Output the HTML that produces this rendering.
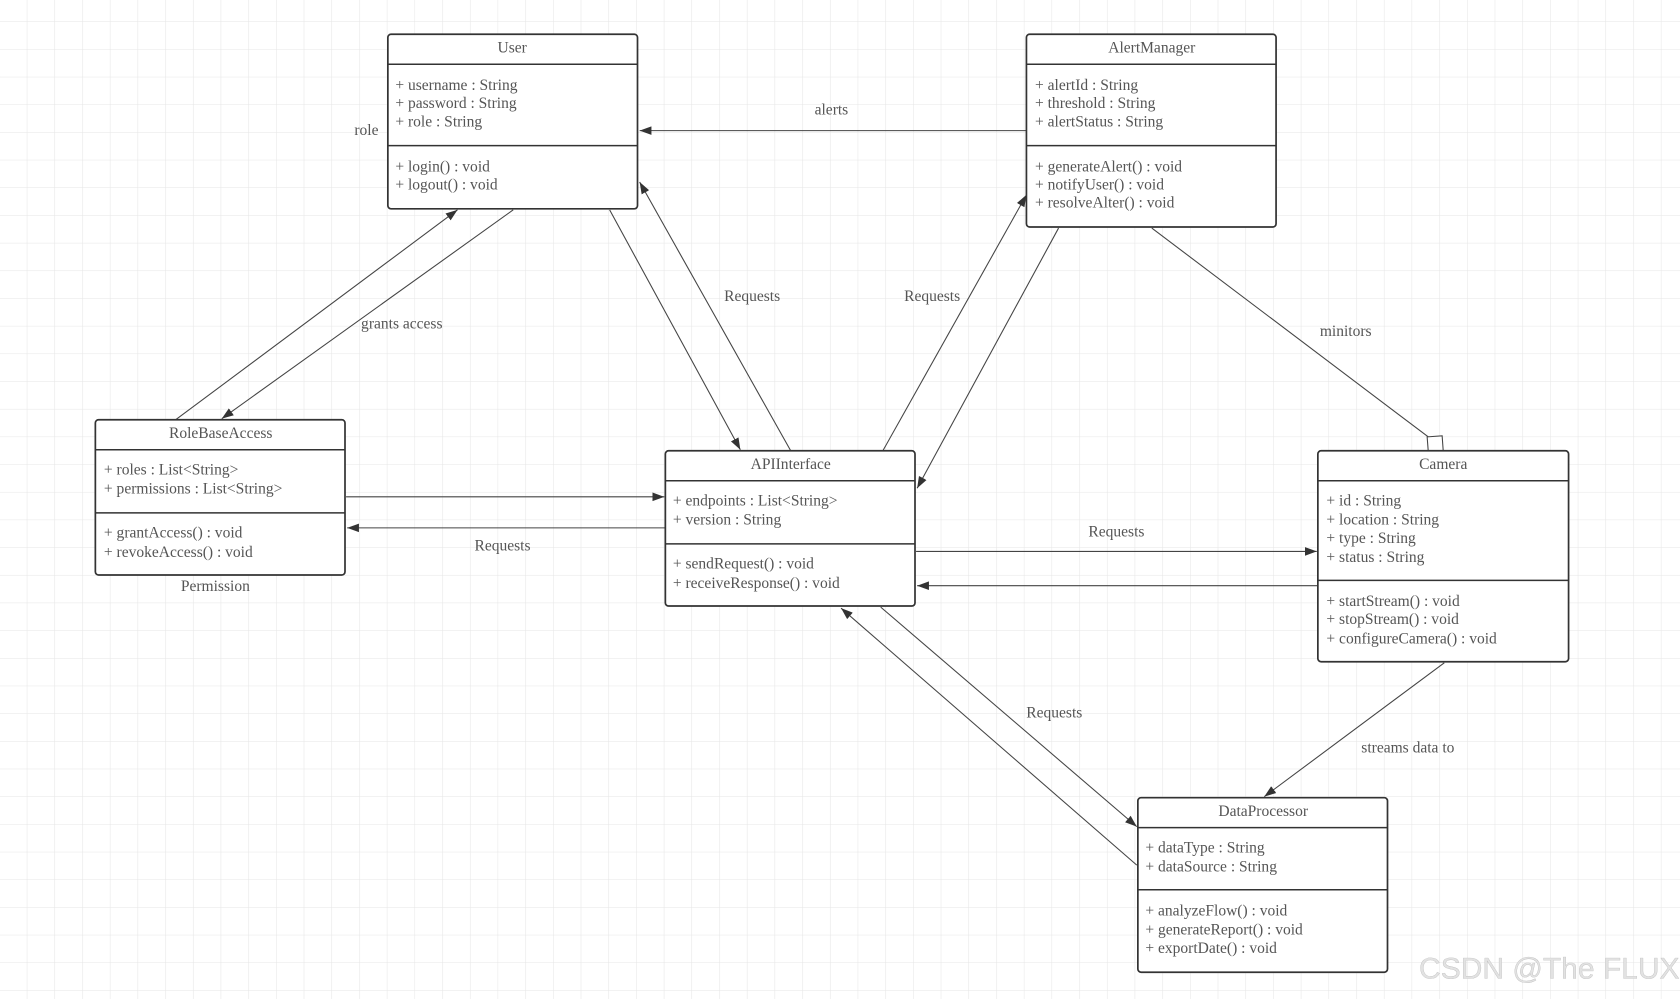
<!DOCTYPE html>
<html><head><meta charset="utf-8"><style>
html,body{margin:0;padding:0;background:#fff;width:1680px;height:999px;overflow:hidden}
svg{display:block}
text{font-family:"Liberation Serif",serif;font-size:14.5px;fill:#555}
.t{text-anchor:middle}
.b{fill:#fff;stroke:#333;stroke-width:1.6}
.s{stroke:#333;stroke-width:1.4}
.c{stroke:#444;stroke-width:1;fill:none}
</style></head><body>
<svg width="1680" height="999" viewBox="0 0 1568 933" preserveAspectRatio="none" xmlns="http://www.w3.org/2000/svg">
<defs>
<pattern id="g" width="25.85" height="25.85" patternUnits="userSpaceOnUse" x="25" y="20">
<path d="M0 0H25.85M0 0V25.85" stroke="#e6e6e6" stroke-width="1" fill="none"/>
</pattern>
<marker id="a" markerWidth="12" markerHeight="10" refX="11" refY="5" orient="auto" markerUnits="userSpaceOnUse">
<path d="M0 1L11 5L0 9Z" fill="#333"/>
</marker>
</defs>
<rect width="1568" height="933" fill="url(#g)"/>

<line class="c" x1="958" y1="122" x2="597" y2="122" marker-end="url(#a)"/>
<line class="c" x1="164" y1="392" x2="427" y2="196" marker-end="url(#a)"/>
<line class="c" x1="479" y1="196" x2="207" y2="391" marker-end="url(#a)"/>
<line class="c" x1="569" y1="196" x2="691" y2="420" marker-end="url(#a)"/>
<line class="c" x1="738" y1="421" x2="597" y2="170" marker-end="url(#a)"/>
<line class="c" x1="824" y1="421" x2="958" y2="182" marker-end="url(#a)"/>
<line class="c" x1="988" y1="213" x2="856" y2="456" marker-end="url(#a)"/>
<line class="c" x1="1075" y1="213" x2="1333" y2="408"/>
<path d="M1332 408L1346 407L1347 421L1333 421Z" fill="#fff" stroke="#444" stroke-width="1"/>
<line class="c" x1="323" y1="464" x2="620" y2="464" marker-end="url(#a)"/>
<line class="c" x1="621" y1="493" x2="324" y2="493" marker-end="url(#a)"/>
<line class="c" x1="855" y1="515" x2="1229" y2="515" marker-end="url(#a)"/>
<line class="c" x1="1230" y1="547" x2="856" y2="547" marker-end="url(#a)"/>
<line class="c" x1="822" y1="567" x2="1061" y2="772" marker-end="url(#a)"/>
<line class="c" x1="1061" y1="808" x2="785" y2="568" marker-end="url(#a)"/>
<line class="c" x1="1348" y1="619" x2="1180" y2="744" marker-end="url(#a)"/>

<text x="776" y="107" class="t">alerts</text>
<text x="342" y="126" class="t">role</text>
<text x="375" y="307" class="t">grants access</text>
<text x="702" y="281" class="t">Requests</text>
<text x="870" y="281" class="t">Requests</text>
<text x="1256" y="314" class="t">minitors</text>
<text x="469" y="514" class="t">Requests</text>
<text x="201" y="552" class="t">Permission</text>
<text x="1042" y="501" class="t">Requests</text>
<text x="984" y="670" class="t">Requests</text>
<text x="1314" y="703" class="t">streams data to</text>

<rect class="b" x="362" y="32" width="233" height="163" rx="3"/>
<line class="s" x1="362" y1="60" x2="595" y2="60"/><line class="s" x1="362" y1="136" x2="595" y2="136"/>
<text x="478" y="49" class="t">User</text>
<text x="369" y="84">+ username : String</text><text x="369" y="101">+ password : String</text><text x="369" y="118">+ role : String</text>
<text x="369" y="160">+ login() : void</text><text x="369" y="177">+ logout() : void</text>

<rect class="b" x="958" y="32" width="233" height="180" rx="3"/>
<line class="s" x1="958" y1="60" x2="1191" y2="60"/><line class="s" x1="958" y1="136" x2="1191" y2="136"/>
<text x="1075" y="49" class="t">AlertManager</text>
<text x="966" y="84">+ alertId : String</text><text x="966" y="101">+ threshold : String</text><text x="966" y="118">+ alertStatus : String</text>
<text x="966" y="160">+ generateAlert() : void</text><text x="966" y="177">+ notifyUser() : void</text><text x="966" y="194">+ resolveAlter() : void</text>

<rect class="b" x="89" y="392" width="233" height="145" rx="3"/>
<line class="s" x1="89" y1="420" x2="322" y2="420"/><line class="s" x1="89" y1="479" x2="322" y2="479"/>
<text x="206" y="409" class="t">RoleBaseAccess</text>
<text x="97" y="443">+ roles : List&lt;String&gt;</text><text x="97" y="461">+ permissions : List&lt;String&gt;</text>
<text x="97" y="502">+ grantAccess() : void</text><text x="97" y="520">+ revokeAccess() : void</text>

<rect class="b" x="621" y="421" width="233" height="145" rx="3"/>
<line class="s" x1="621" y1="449" x2="854" y2="449"/><line class="s" x1="621" y1="508" x2="854" y2="508"/>
<text x="738" y="438" class="t">APIInterface</text>
<text x="628" y="472">+ endpoints : List&lt;String&gt;</text><text x="628" y="490">+ version : String</text>
<text x="628" y="531">+ sendRequest() : void</text><text x="628" y="549">+ receiveResponse() : void</text>

<rect class="b" x="1230" y="421" width="234" height="197" rx="3"/>
<line class="s" x1="1230" y1="449" x2="1464" y2="449"/><line class="s" x1="1230" y1="542" x2="1464" y2="542"/>
<text x="1347" y="438" class="t">Camera</text>
<text x="1238" y="472">+ id : String</text><text x="1238" y="490">+ location : String</text><text x="1238" y="507">+ type : String</text><text x="1238" y="525">+ status : String</text>
<text x="1238" y="566">+ startStream() : void</text><text x="1238" y="583">+ stopStream() : void</text><text x="1238" y="601">+ configureCamera() : void</text>

<rect class="b" x="1062" y="745" width="233" height="163" rx="3"/>
<line class="s" x1="1062" y1="773" x2="1295" y2="773"/><line class="s" x1="1062" y1="831" x2="1295" y2="831"/>
<text x="1179" y="762" class="t">DataProcessor</text>
<text x="1069" y="796">+ dataType : String</text><text x="1069" y="814">+ dataSource : String</text>
<text x="1069" y="855">+ analyzeFlow() : void</text><text x="1069" y="873">+ generateReport() : void</text><text x="1069" y="890">+ exportDate() : void</text>

<text x="1446" y="914" class="t" style="font-family:'Liberation Sans',sans-serif;font-size:28px;fill:#e2e2e2;stroke:#b8b8b8;stroke-width:0.3">CSDN @The FLUX</text>
</svg>
</body></html>
